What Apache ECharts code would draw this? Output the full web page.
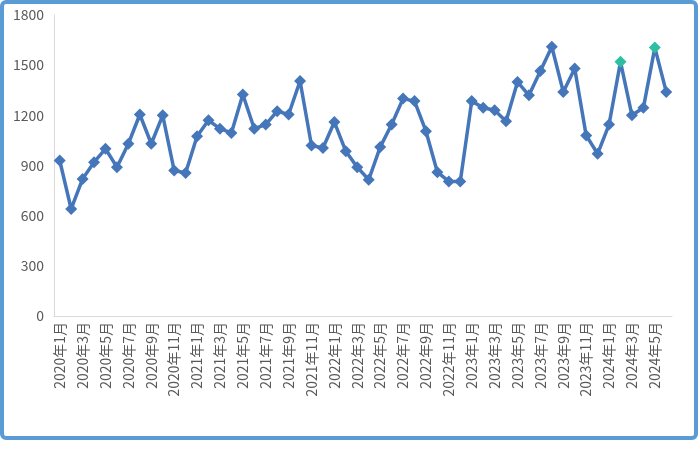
<!DOCTYPE html>
<html>
<head>
<meta charset="utf-8">
<script src="https://cdn.jsdelivr.net/npm/echarts@6/dist/echarts.min.js"></script>
<style>
html,body{margin:0;padding:0;background:#fff;}
#c{width:699px;height:451px;}
</style>
</head>
<body>
<div id="c"></div>
<script>
// Months 2020年1月 .. 2024年6月
const years = [2020, 2021, 2022, 2023, 2024];
const months = [];
years.forEach(function (y) {
  for (let m = 1; m <= 12; m++) {
    if (y === 2024 && m > 6) break;
    months.push(y + '年' + m + '月');
  }
});
const values = [
  930, 640, 820, 920, 1000, 890, 1030, 1205, 1030, 1200, 870, 855,
  1075, 1170, 1120, 1095, 1325, 1120, 1145, 1225, 1205, 1405, 1020, 1005,
  1160, 985, 890, 815, 1010, 1145, 1300, 1285, 1105, 860, 805, 805,
  1285, 1245, 1230, 1165, 1400, 1320, 1465, 1610, 1340, 1480, 1080, 970,
  1145, 1520, 1200, 1245, 1605, 1340
];
const highlightIdx = [49, 52];
const yTicks = [0, 300, 600, 900, 1200, 1500, 1800];

const chart = echarts.init(document.getElementById('c'), null, {renderer: 'canvas'});
const lineColor = '#4576BA';
const hiColor = '#2EBFA3';
chart.setOption({
  animation: false,
  backgroundColor: '#fff',
  graphic: [{
    type: 'rect',
    shape: {x: 2, y: 2, width: 694, height: 436, r: 4},
    style: {fill: 'none', stroke: '#5B9BD5', lineWidth: 4},
    z: 100
  }],
  grid: {left: 54, right: 27, top: 15, bottom: 135},
  xAxis: {
    type: 'category',
    data: months,
    boundaryGap: true,
    axisLine: {lineStyle: {color: '#D9D9D9', width: 1}},
    axisTick: {show: false},
    axisLabel: {
      interval: 1,
      rotate: 90,
      fontSize: 14,
      color: '#595959',
      fontFamily: 'Noto Sans CJK SC',
      margin: 6
    }
  },
  yAxis: {
    type: 'value',
    min: yTicks[0],
    max: yTicks[yTicks.length - 1],
    interval: 300,
    axisLine: {show: true, lineStyle: {color: '#D9D9D9', width: 1}},
    axisTick: {show: false},
    splitLine: {show: false},
    axisLabel: {
      fontSize: 14, color: '#595959', fontFamily: 'Noto Sans CJK SC', margin: 10,
      formatter: function (v) { return String(v); }
    }
  },
  series: [{
    type: 'line',
    data: values.map(function (v, i) {
      if (highlightIdx.indexOf(i) >= 0) {
        return {value: v, itemStyle: {color: hiColor, borderColor: hiColor}};
      }
      return v;
    }),
    symbol: 'diamond',
    symbolSize: 12,
    showAllSymbol: true,
    lineStyle: {color: lineColor, width: 3.5},
    itemStyle: {color: lineColor, borderWidth: 0}
  }]
});
</script>
</body>
</html>
